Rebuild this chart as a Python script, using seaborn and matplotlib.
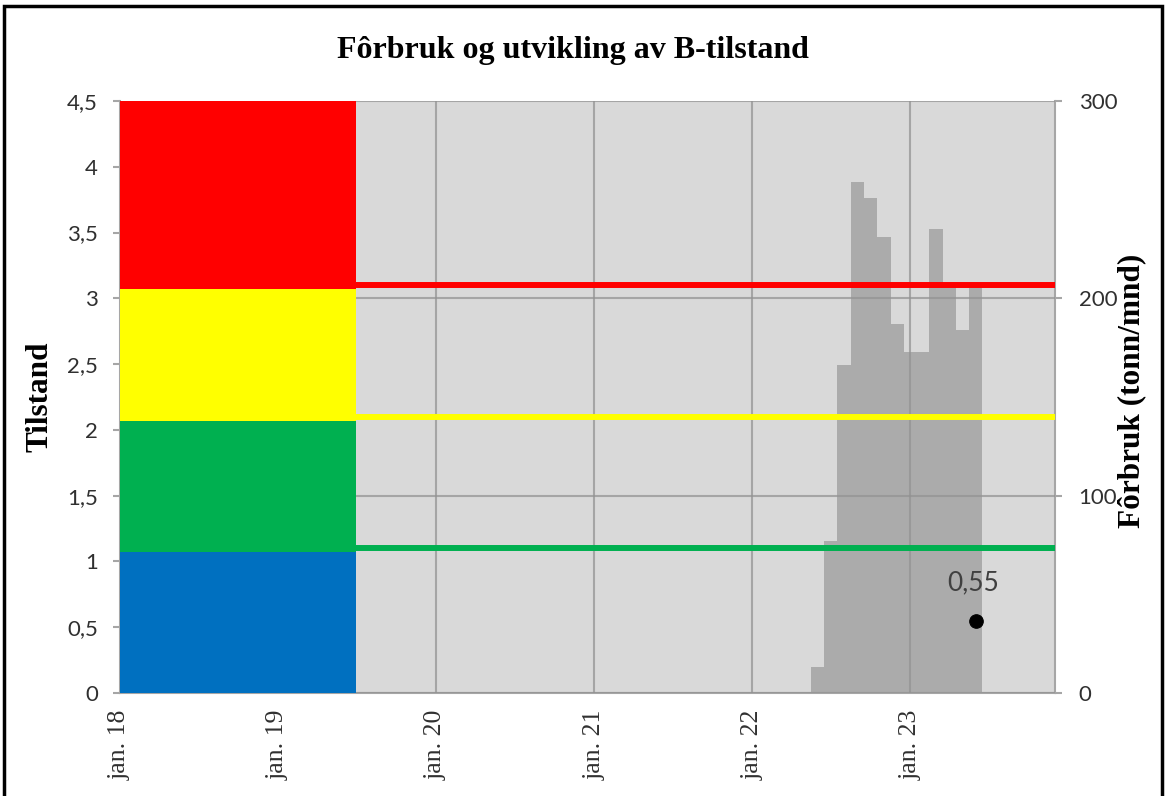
import pandas as pd
import matplotlib.pyplot as plt
import matplotlib.dates as mdates
from matplotlib.patches import Rectangle
from matplotlib.ticker import FuncFormatter, MultipleLocator
import seaborn as sns

# zones for B-tilstand (drawn as stacked blocks at the start of the period)
zone_bottoms = [0, 1.07, 2.07, 3.07]
zone_heights = [1.07, 1.0, 1.0, 1.43]
zone_colors = ["#0070c0", "#00b050", "#ffff00", "#ff0000"]
zone_start = pd.Timestamp("2018-01-01")
zone_end = pd.Timestamp("2019-07-01")

# limit lines
limit_values = [3.1, 2.1, 1.1]
limit_colors = ["#ff0000", "#ffff00", "#00b050"]

# monthly feed use, tonn/mnd
feed_months = pd.date_range("2022-06-01", "2023-06-01", freq="MS")
feed_tonn = [13, 77, 166, 259, 251, 231, 187, 173, 173, 235, 205, 184, 205]

# measured condition
obs_date = pd.Timestamp("2023-06-01")
obs_value = 0.55

year_ticks = pd.date_range("2018-01-01", "2023-01-01", freq="YS")
year_labels = ["jan. 18", "jan. 19", "jan. 20", "jan. 21", "jan. 22", "jan. 23"]

sns.set_style("white")
plt.rcParams["font.family"] = ["Lato", "DejaVu Sans"]

fig = plt.figure(figsize=(11.66, 7.96), dpi=100)
ax2 = fig.add_axes([0.1029, 0.1294, 0.8019, 0.7437])
ax = ax2.twinx()
ax.set_zorder(ax2.get_zorder() + 1)
ax.patch.set_visible(False)

grid_col = "#a6a6a6"
text_col = "#303030"
ax2.set_facecolor("#d9d9d9")

# feed bars on secondary axis, grid drawn on top (semi transparent)
ax2.bar(feed_months, feed_tonn, width=31, color="#ababab", linewidth=0, zorder=2)
ax2.set_ylim(0, 300)
ax2.yaxis.set_major_locator(MultipleLocator(100))
ax2.set_axisbelow(False)
ax2.grid(True, color="#929292", alpha=0.72, linewidth=1.5, zorder=3)

# zones + limits on primary axis
width = (zone_end - zone_start).days
for b, h, c in zip(zone_bottoms, zone_heights, zone_colors):
    ax.bar(zone_start, h, bottom=b, width=width, align="edge", color=c,
           linewidth=0, zorder=3)
for v, c in zip(limit_values, limit_colors):
    ax.axhline(v, color=c, linewidth=4.3, zorder=2)

sns.scatterplot(x=[obs_date], y=[obs_value], ax=ax, color="black", s=95,
                edgecolor="black", zorder=5, legend=False)
ax.annotate("0,55", (mdates.date2num(obs_date), obs_value), xytext=(-2, 18),
            textcoords="offset points", ha="center", va="bottom",
            fontsize=19, color="#404040")

ax.set_ylim(0, 4.5)
ax.yaxis.set_major_locator(MultipleLocator(0.5))
ax.yaxis.set_major_formatter(FuncFormatter(lambda v, p: f"{v:g}".replace(".", ",")))
ax2.set_xlim(pd.Timestamp("2018-01-01"), pd.Timestamp("2023-12-01"))
ax2.set_xticks(year_ticks)
ax2.set_xticklabels(year_labels, rotation=90, fontfamily="Liberation Serif")

# primary axis is on the left, feed axis on the right
ax.yaxis.tick_left()
ax.yaxis.set_label_position("left")
ax2.yaxis.tick_right()
ax2.yaxis.set_label_position("right")

for a in (ax, ax2):
    for s in a.spines.values():
        s.set_visible(False)
    a.tick_params(axis="both", colors=grid_col, labelcolor=text_col,
                  length=5, width=1.5, labelsize=16)
for a, side in ((ax, "left"), (ax2, "bottom"), (ax2, "right")):
    a.spines[side].set_visible(True)
    a.spines[side].set_color(grid_col)
    a.spines[side].set_linewidth(1.5)
ax.tick_params(axis="y", pad=11)
ax2.tick_params(axis="y", pad=12)
ax2.tick_params(axis="x", pad=5, length=7, labelsize=18.5)

ax.set_ylabel("Tilstand", fontfamily="Liberation Serif", fontweight="bold",
              fontsize=22.5, color="black", labelpad=9)
ax2.set_ylabel("Fôrbruk (tonn/mnd)", fontfamily="Liberation Serif",
               fontweight="bold", fontsize=22.5, color="black")
ax2.yaxis.set_label_coords(1.067, 0.51)

fig.text(0.491, 0.936, "Fôrbruk og utvikling av B-tilstand", ha="center",
         va="center", fontfamily="Liberation Serif", fontweight="bold",
         fontsize=23, color="black")

# chart border
fig.patches.append(Rectangle((4 / 1166, -0.05), 1158 / 1166, 1.05 - 6 / 796,
                             transform=fig.transFigure, fill=False,
                             edgecolor="black", linewidth=2.5))

fig.savefig("out.png", dpi=100)
